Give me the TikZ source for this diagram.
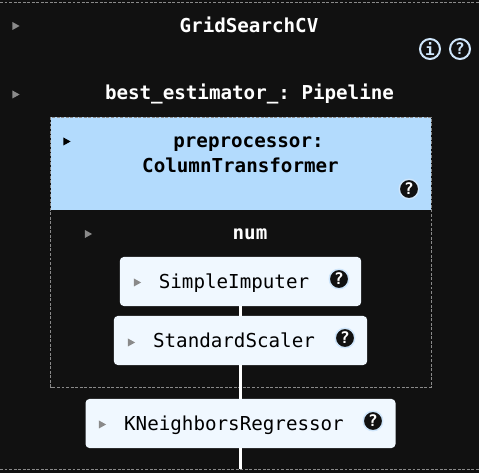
\documentclass[tikz,border=0pt]{standalone}
\usepackage{fontspec}
\setmonofont{DejaVu Sans Mono}
\definecolor{bgc}{HTML}{111111}
\definecolor{hdr}{HTML}{B3DBFD}
\definecolor{pale}{HTML}{F0F8FF}
\definecolor{dashc}{HTML}{8A8A8A}
\definecolor{ringc}{HTML}{CFE6FB}
\definecolor{arrowc}{HTML}{8A8A8A}
\tikzset{
  x=0.75pt,y=-0.75pt,
  lbl/.style={font=\ttfamily\fontsize{14.4}{16}\selectfont,inner sep=0pt,anchor=base},
  darkbold/.style={lbl,font=\ttfamily\bfseries\fontsize{14.4}{16}\selectfont,text=white},
  hdrtext/.style={lbl,font=\ttfamily\bfseries\fontsize{14.4}{16}\selectfont,text=black},
  est/.style={fill=pale,rounded corners=3pt,inner sep=0pt,anchor=center,minimum height=36.8pt},
  conn/.style={draw=white,line width=2.7pt},
  dashb/.style={draw=dashc,line width=0.6pt,dash pattern=on 2.2pt off 1.2pt},
  bigicon/.style={circle,draw=ringc,fill=bgc,line width=1.5pt,minimum size=15pt,inner sep=0pt,text=ringc,font=\ttfamily\bfseries\fontsize{12}{12}\selectfont},
  smallicon/.style={circle,draw=ringc,fill=bgc,line width=1.1pt,minimum size=14.6pt,inner sep=0pt,text=white,font=\ttfamily\bfseries\fontsize{12}{12}\selectfont},
}
\newcommand{\trimark}[3]{\fill[#3] (#1-3.6,#2-4) -- (#1+3.6,#2) -- (#1-3.6,#2+4) -- cycle;}
\begin{document}
\begin{tikzpicture}
\useasboundingbox (0,0) rectangle (479,473);
\fill[bgc] (0,0) rectangle (479,473);
\draw[dashb] (0,2.5) -- (479,2.5);
\draw[dashb] (0,469.5) -- (479,469.5);
% preprocessor header
\fill[hdr] (51,117) rectangle (431,210);
\draw[dashb] (50.5,117) rectangle (431,387);
% estimator boxes
\node[est,minimum width=181pt] (si) at (240.5,281.5) {};
\node[est,minimum width=190pt] (ss) at (240.5,340.5) {};
\node[est,minimum width=232.5pt] (kn) at (240.5,423.5) {};
\coordinate (bot) at (240.5,469);
\draw[conn] (si.south) -- (ss.north);
\draw[conn] (ss.south) -- (kn.north);
\draw[conn] (kn.south) -- (bot);
% texts
\node[darkbold] (t1) at (249,33) {GridSearchCV};
\node[darkbold] (t2) at (249.5,100) {best\_estimator\_: Pipeline};
\node[hdrtext] (t3) at (248.5,148) {preprocessor:};
\node[hdrtext] (t4) at (240.5,173) {ColumnTransformer};
\node[darkbold] (t5) at (250,240) {num};
\node[lbl,text=black] (t6) at (234,288.5) {SimpleImputer};
\node[lbl,text=black] (t7) at (234,348) {StandardScaler};
\node[lbl,text=black] (t8) at (234,430.5) {KNeighborsRegressor};
% icons
\node[bigicon] (i1) at (430,49) {i};
\node[bigicon] (i2) at (460,49) {?};
\node[smallicon] (q1) at (409,189) {?};
\node[smallicon] (q2) at (339,279) {?};
\node[smallicon] (q3) at (345,338) {?};
\node[smallicon] (q4) at (373,421) {?};
% triangles
\trimark{16}{26}{arrowc}
\trimark{16}{94.5}{arrowc}
\trimark{67}{141.5}{black}
\trimark{88.5}{234}{arrowc}
\trimark{137.5}{282.5}{arrowc}
\trimark{131.5}{342.5}{arrowc}
\trimark{102.5}{424.5}{arrowc}
\end{tikzpicture}
\end{document}
